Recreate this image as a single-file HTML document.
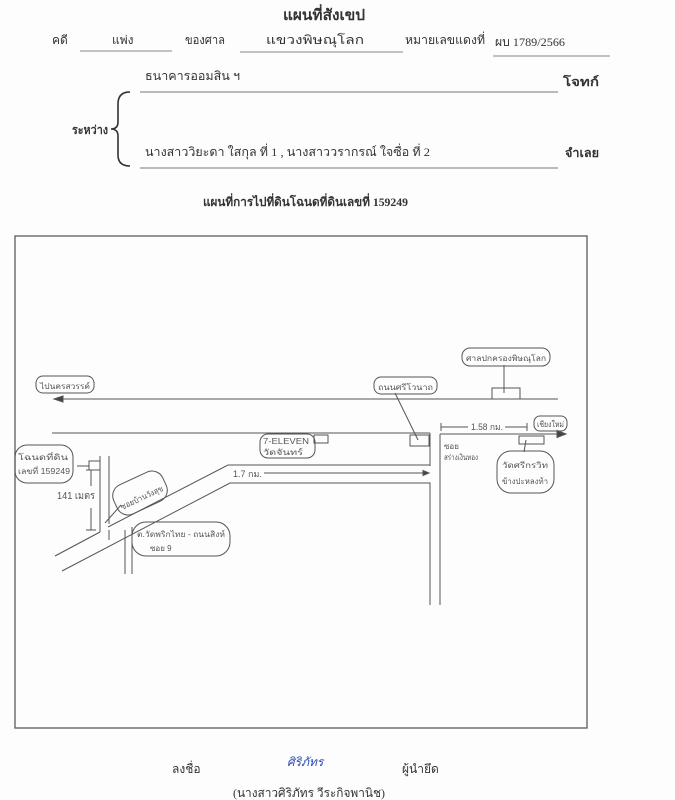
<!DOCTYPE html>
<html><head><meta charset="utf-8"><style>
html,body{margin:0;padding:0;background:#fdfdfd;}
svg{display:block;}
text{font-family:"Liberation Serif","Noto Serif CJK SC","Noto Sans CJK SC",serif;fill:#333;}
.h{font-family:"Liberation Sans","Noto Sans CJK SC",sans-serif;fill:#555;}
</style></head><body>
<svg width="675" height="800" viewBox="0 0 675 800" xmlns="http://www.w3.org/2000/svg">
<rect width="675" height="800" fill="#fdfdfd"/>
<!-- header -->
<text x="283" y="20" font-size="15" font-weight="bold" fill="#222" textLength="82" lengthAdjust="spacingAndGlyphs">แผนที่สังเขป</text>
<text x="52" y="44" font-size="12">คดี</text>
<text x="112" y="44" font-size="12">แพ่ง</text>
<line x1="80" y1="51" x2="172" y2="51" stroke="#888"/>
<text x="185" y="44" font-size="12" textLength="40" lengthAdjust="spacingAndGlyphs">ของศาล</text>
<text x="266" y="44" font-size="12" textLength="98" lengthAdjust="spacingAndGlyphs">แขวงพิษณุโลก</text>
<line x1="240" y1="52" x2="403" y2="52" stroke="#888"/>
<text x="405" y="44" font-size="12" textLength="80" lengthAdjust="spacingAndGlyphs">หมายเลขแดงที่</text>
<text x="495" y="46" font-size="12" textLength="70" lengthAdjust="spacingAndGlyphs">ผบ 1789/2566</text>
<line x1="493" y1="56" x2="610" y2="56" stroke="#888"/>
<text x="145" y="80" font-size="12" textLength="95" lengthAdjust="spacingAndGlyphs">ธนาคารออมสิน ฯ</text>
<line x1="140" y1="92" x2="558" y2="92" stroke="#777"/>
<text x="563" y="86" font-size="12" font-weight="bold" fill="#222" textLength="36" lengthAdjust="spacingAndGlyphs">โจทก์</text>
<path d="M130 92 Q118 92 118 104 L118 122 Q118 129 111 129 Q118 129 118 136 L118 155 Q118 166 130 166" fill="none" stroke="#333" stroke-width="1.6"/>
<text x="72" y="134" font-size="12" font-weight="bold" fill="#222" textLength="36" lengthAdjust="spacingAndGlyphs">ระหว่าง</text>
<text x="145" y="156" font-size="12" textLength="285" lengthAdjust="spacingAndGlyphs">นางสาววิยะดา ใสกุล ที่ 1 , นางสาววรากรณ์ ใจซื่อ ที่ 2</text>
<line x1="140" y1="168" x2="558" y2="168" stroke="#777"/>
<text x="565" y="157" font-size="12" font-weight="bold" fill="#222" textLength="34" lengthAdjust="spacingAndGlyphs">จำเลย</text>
<text x="203" y="206" font-size="12" font-weight="bold" fill="#222" textLength="205" lengthAdjust="spacingAndGlyphs">แผนที่การไปที่ดินโฉนดที่ดินเลขที่ 159249</text>
<!-- map frame -->
<rect x="15" y="236" width="572" height="492" fill="none" stroke="#666" stroke-width="1.4"/>
<g stroke="#555" stroke-width="1" fill="none">
<line x1="54" y1="399" x2="558" y2="399"/>
<path d="M54 399 l9 -3 v6 z" fill="#444"/>
<line x1="52" y1="433" x2="430" y2="433"/>
<line x1="430" y1="433" x2="430" y2="466"/>
<line x1="440" y1="434" x2="563" y2="434"/>
<path d="M566 434 l-9 -3.5 v7 z" fill="#444"/>
<line x1="440" y1="434" x2="440" y2="605"/>
<polyline points="108,527 228,465 430,465"/>
<polyline points="55,556 100,532"/>
<polyline points="62,571 230,483 430,483 430,605"/>
<line x1="100" y1="456" x2="100" y2="532"/>
<line x1="109" y1="456" x2="109" y2="524"/>
<line x1="125" y1="530" x2="125" y2="574"/>
<line x1="132" y1="527" x2="132" y2="574"/>
<rect x="492" y="388" width="28" height="11"/>
<rect x="410" y="435" width="19" height="11"/>
<rect x="314" y="435" width="14" height="8"/>
<rect x="519" y="436" width="25" height="8"/>
<rect x="89" y="461" width="11" height="9"/>
<line x1="504" y1="365" x2="504" y2="393"/>
<line x1="395" y1="393" x2="418" y2="440"/>
<line x1="526" y1="440" x2="524" y2="452"/>
<line x1="77" y1="466" x2="89" y2="466"/>
<line x1="121" y1="505" x2="105" y2="523"/>
<line x1="441" y1="427" x2="468" y2="427"/><line x1="441" y1="423" x2="441" y2="431"/>
<line x1="505" y1="427" x2="527" y2="427"/><line x1="527" y1="423" x2="527" y2="431"/>
<line x1="264" y1="473" x2="427" y2="473"/><path d="M429 473 l-6 -2.5 v5 z" fill="#444"/>
<line x1="91" y1="470" x2="91" y2="486"/><line x1="86" y1="470" x2="96" y2="470"/>
<line x1="91" y1="508" x2="91" y2="530"/><line x1="86" y1="530" x2="96" y2="530"/>
<line x1="109" y1="530" x2="109" y2="540"/>
<rect x="36" y="376" width="58" height="17" rx="7"/>
<rect x="374" y="377" width="63" height="17" rx="7"/>
<rect x="462" y="348" width="88" height="18" rx="8"/>
<rect x="534" y="416" width="33" height="15" rx="6"/>
<rect x="497" y="451" width="57" height="42" rx="14"/>
<rect x="260" y="434" width="55" height="24" rx="8"/>
<rect x="15" y="445" width="58" height="38" rx="12"/>
<rect x="113" y="477" width="54" height="32" rx="12" transform="rotate(-25 140 493)"/>
<rect x="132" y="522" width="98" height="34" rx="14"/>
</g>
<g font-size="8">
<text class="h" x="40" y="389" textLength="50" lengthAdjust="spacingAndGlyphs">ไปนครสวรรค์</text>
<text class="h" x="378" y="390" textLength="55" lengthAdjust="spacingAndGlyphs">ถนนศรีโวนาถ</text>
<text class="h" x="466" y="361" textLength="80" lengthAdjust="spacingAndGlyphs">ศาลปกครองพิษณุโลก</text>
<text class="h" x="537" y="427" font-size="8" textLength="27" lengthAdjust="spacingAndGlyphs">เชียงใหม่</text>
<text class="h" x="471" y="430" font-size="9" textLength="32" lengthAdjust="spacingAndGlyphs">1.58 กม.</text>
<text class="h" x="502" y="468" textLength="46" lengthAdjust="spacingAndGlyphs">วัดศรีกรวิท</text>
<text class="h" x="502" y="484" textLength="46" lengthAdjust="spacingAndGlyphs">ข้างปะหลงท้า</text>
<text class="h" x="263" y="444" textLength="46" lengthAdjust="spacingAndGlyphs">7-ELEVEN</text>
<text class="h" x="263" y="455" textLength="40" lengthAdjust="spacingAndGlyphs">วัดจันทร์</text>
<text class="h" x="444" y="449">ซอย</text>
<text class="h" x="444" y="460" textLength="34" lengthAdjust="spacingAndGlyphs">สร่างเงินทอง</text>
<text class="h" x="233" y="477" font-size="9">1.7 กม.</text>
<text class="h" x="18" y="460" textLength="50" lengthAdjust="spacingAndGlyphs">โฉนดที่ดิน</text>
<text class="h" x="18" y="474" textLength="52" lengthAdjust="spacingAndGlyphs">เลขที่ 159249</text>
<text class="h" x="57" y="499" font-size="10" textLength="38" lengthAdjust="spacingAndGlyphs">141 เมตร</text>
<text class="h" x="118" y="501" transform="rotate(-25 140 496)" textLength="46" lengthAdjust="spacingAndGlyphs">ซอยบ้านวังสุข</text>
<text class="h" x="137" y="537" textLength="88" lengthAdjust="spacingAndGlyphs">ต.วัดพริกไทย - ถนนสิงห์</text>
<text class="h" x="150" y="551">ซอย 9</text>
</g>
<text x="172" y="773" font-size="12">ลงชื่อ</text>
<text x="287" y="766" font-size="12" style="fill:#2848b0" font-style="italic">ศิริภัทร</text>
<text x="402" y="773" font-size="12">ผู้นำยึด</text>
<text x="233" y="797" font-size="12" textLength="152" lengthAdjust="spacingAndGlyphs">(นางสาวศิริภัทร วีระกิจพานิช)</text>
</svg>
</body></html>
